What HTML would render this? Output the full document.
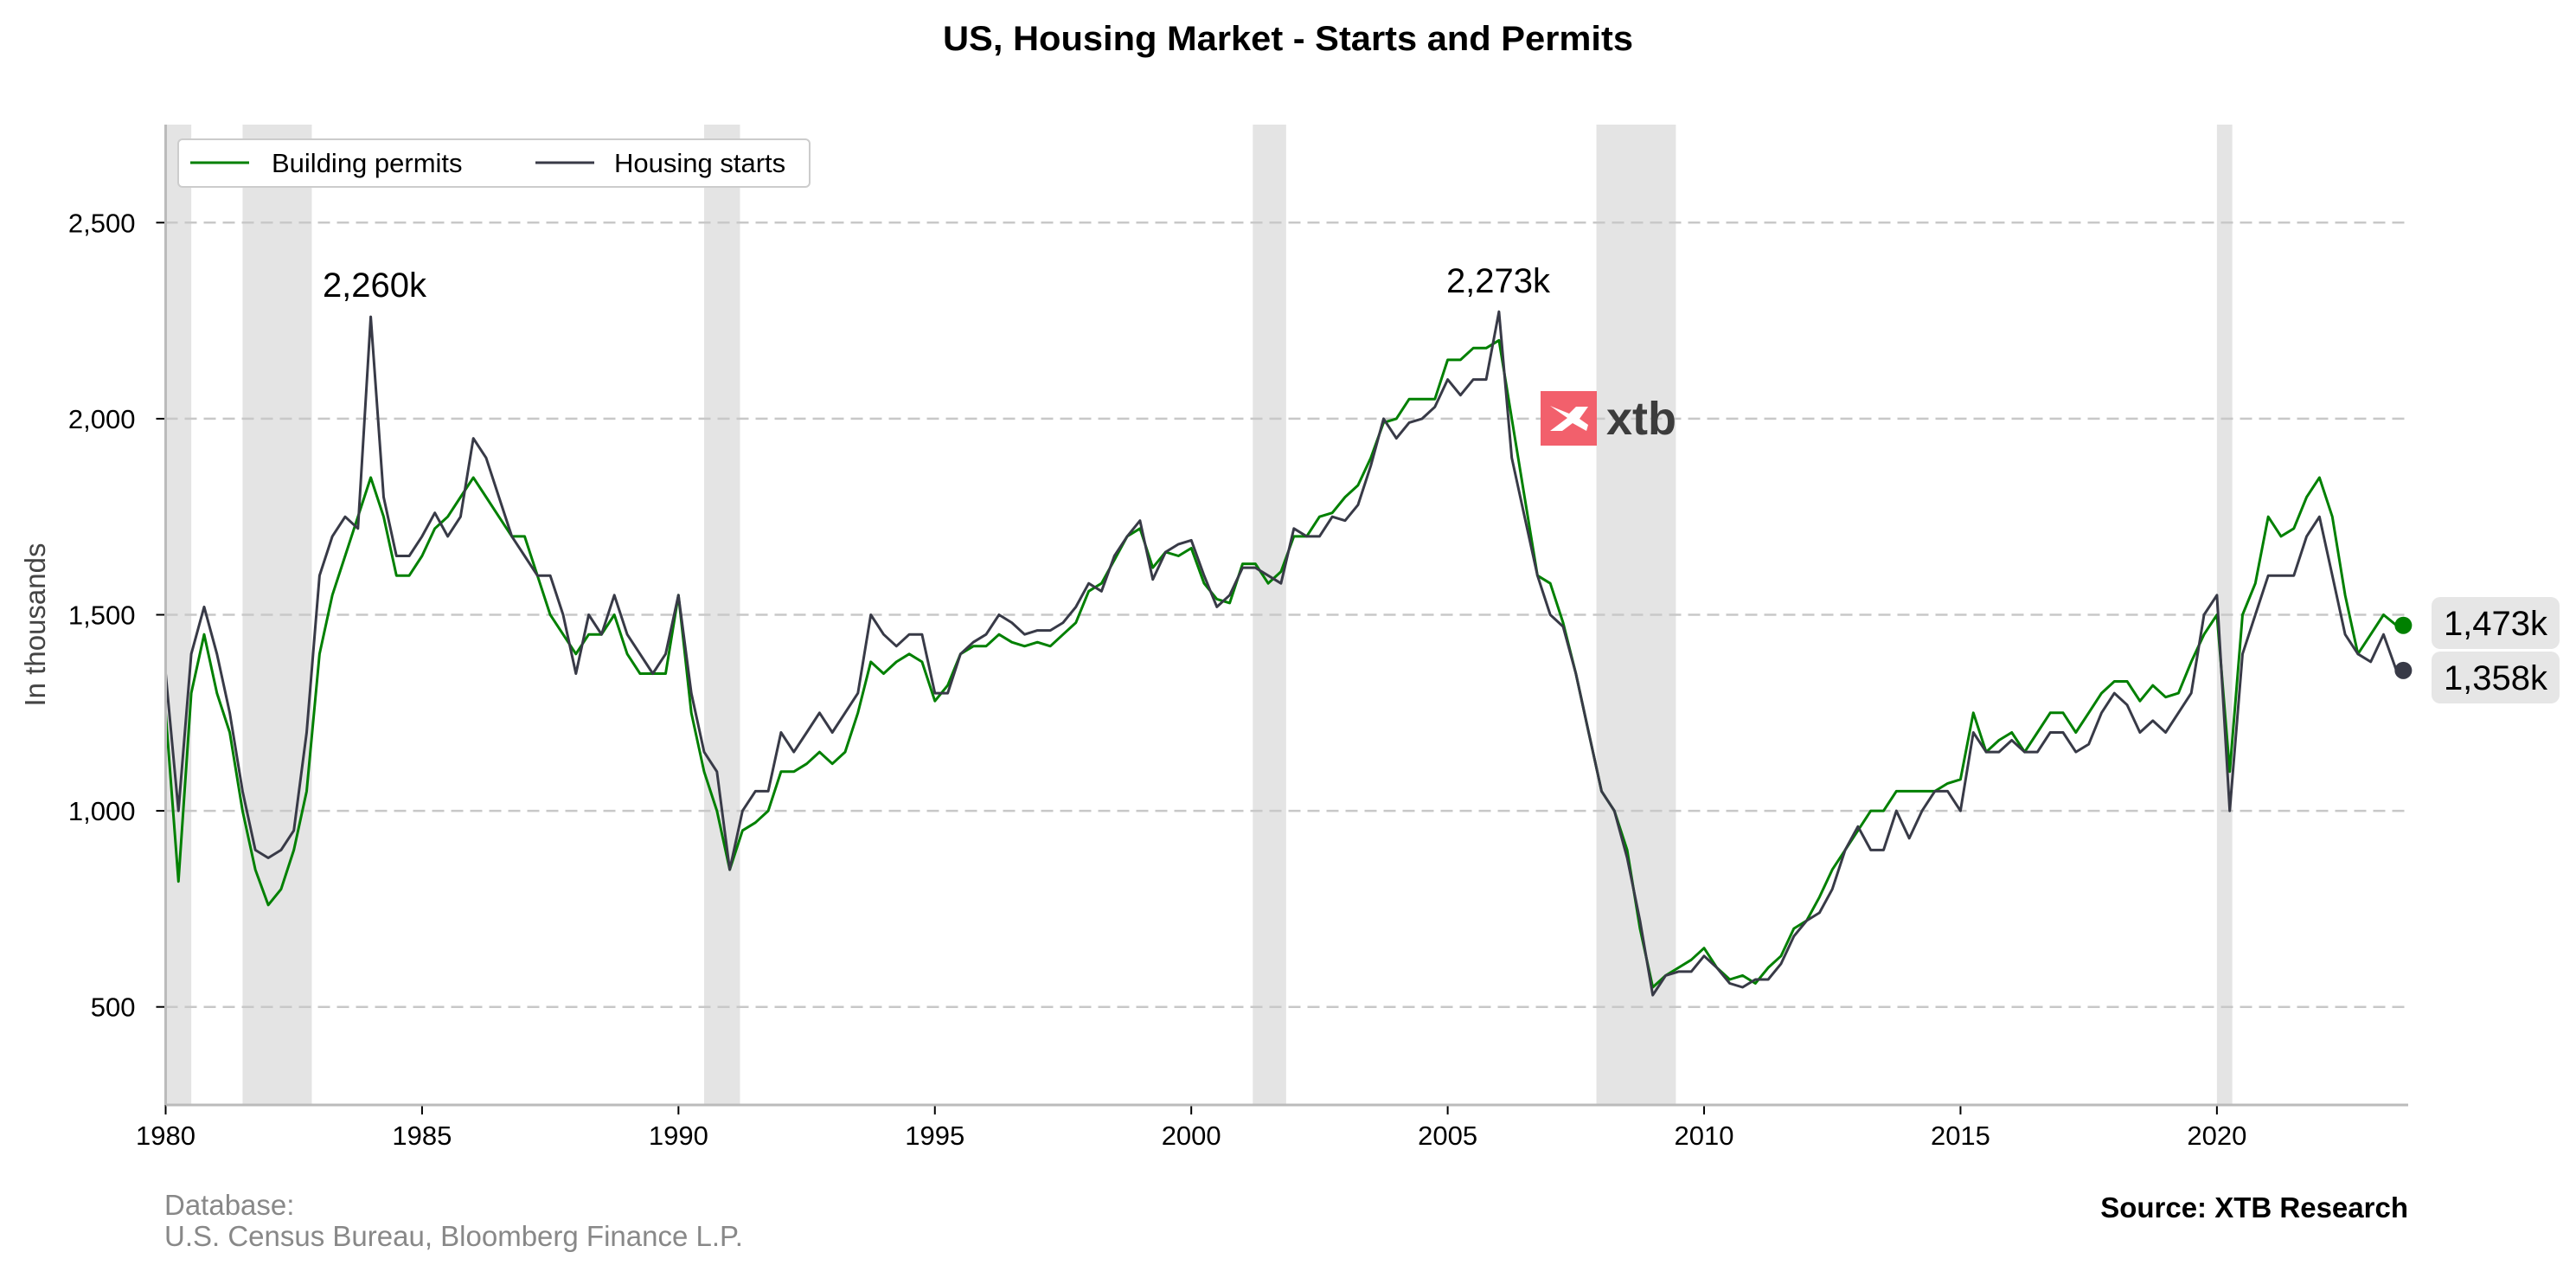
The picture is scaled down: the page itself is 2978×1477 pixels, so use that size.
<!DOCTYPE html>
<html><head><meta charset="utf-8">
<style>
html,body{margin:0;padding:0;background:#fff;}
svg{display:block;font-family:"Liberation Sans",Arial,sans-serif;}
</style></head>
<body>
<svg id="chart" width="2978" height="1477" viewBox="0 0 2978 1477" xmlns="http://www.w3.org/2000/svg">
<text x="1489" y="58" text-anchor="middle" font-size="40" font-weight="bold" fill="#000" textLength="798" lengthAdjust="spacingAndGlyphs">US, Housing Market - Starts and Permits</text>
<g id="bands"></g>
<g id="grid"></g>
<g id="series"></g>
<g id="axes"></g>
<text transform="translate(52,722) rotate(-90)" text-anchor="middle" font-size="33" fill="#444">In thousands</text>
<text x="190" y="1404" font-size="33" fill="#888">Database:</text>
<text x="190" y="1440" font-size="33" fill="#888">U.S. Census Bureau, Bloomberg Finance L.P.</text>
<text x="2784" y="1407" text-anchor="end" font-size="33" font-weight="bold" fill="#000">Source: XTB Research</text>
<g>
<rect x="1781" y="452" width="65" height="63" fill="#f2606c"/>
<path d="M1792 469 L1812 483 L1792 498 L1806 498 L1818 489 L1834 498 L1836 491 L1826 484 L1836 470 L1822 470 L1814 478 Z" fill="#fff"/>
<text x="1857" y="502" font-size="54" font-weight="bold" fill="#3c3c3c">xtb</text>
</g>
<g>
<rect x="206" y="161" width="730" height="55" rx="5" fill="#fff" stroke="#ccc" stroke-width="2"/>
<line x1="220" y1="188" x2="288" y2="188" stroke="#008000" stroke-width="3"/>
<text x="314" y="199" font-size="31" fill="#000">Building permits</text>
<line x1="619" y1="188" x2="687" y2="188" stroke="#383a47" stroke-width="3"/>
<text x="710" y="199" font-size="31" fill="#000">Housing starts</text>
</g>
<text x="433" y="343" text-anchor="middle" font-size="40" fill="#000">2,260k</text>
<text x="1732" y="338" text-anchor="middle" font-size="40" fill="#000">2,273k</text>
<g id="endlabels"></g>
</svg>
<script>
const years = [1980,1985,1990,1995,2000,2005,2010,2015,2020];
const yTicks = [500,1000,1500,2000,2500];
const recessionStarts = [1980.0,1981.5,1990.5,2001.2,2007.9,2020.0];
const recessionEnds = [1980.5,1982.85,1991.2,2001.85,2009.45,2020.3];
const startYear = 1980;
const permits = [
1250,820,1300,1450, 1300,1200,1000,850, 760,800,900,1050, 1400,1550,1650,1750,
1850,1750,1600,1600, 1650,1720,1750,1800, 1850,1800,1750,1700, 1700,1600,1500,1450,
1400,1450,1450,1500, 1400,1350,1350,1350, 1550,1250,1100,1000, 850,950,970,1000,
1100,1100,1120,1150, 1120,1150,1250,1380, 1350,1380,1400,1380, 1280,1320,1400,1420,
1420,1450,1430,1420, 1430,1420,1450,1480, 1560,1580,1640,1700, 1720,1620,1660,1650,
1670,1580,1540,1530, 1630,1630,1580,1610, 1700,1700,1750,1760, 1800,1830,1900,1990,
2000,2050,2050,2050, 2150,2150,2180,2180, 2200,2000,1800,1600, 1580,1480,1350,1200,
1050,1000,900,700, 550,580,600,620, 650,600,570,580, 560,600,630,700,
720,780,850,900, 950,1000,1000,1050, 1050,1050,1050,1070, 1080,1250,1150,1180,
1200,1150,1200,1250, 1250,1200,1250,1300, 1330,1330,1280,1320, 1290,1300,1380,1450,
1500,1100,1500,1580, 1750,1700,1720,1800, 1850,1750,1550,1400, 1450,1500,1473];
const starts = [
1350,1000,1400,1520, 1400,1250,1050,900, 880,900,950,1200, 1600,1700,1750,1720,
2260,1800,1650,1650, 1700,1760,1700,1750, 1950,1900,1800,1700, 1650,1600,1600,1500,
1350,1500,1450,1550, 1450,1400,1350,1400, 1550,1300,1150,1100, 850,1000,1050,1050,
1200,1150,1200,1250, 1200,1250,1300,1500, 1450,1420,1450,1450, 1300,1300,1400,1430,
1450,1500,1480,1450, 1460,1460,1480,1520, 1580,1560,1650,1700, 1740,1590,1660,1680,
1690,1600,1520,1550, 1620,1620,1600,1580, 1720,1700,1700,1750, 1740,1780,1880,2000,
1950,1990,2000,2030, 2100,2060,2100,2100, 2273,1900,1750,1600, 1500,1470,1350,1200,
1050,1000,880,720, 530,580,590,590, 630,600,560,550, 570,570,610,680,
720,740,800,900, 960,900,900,1000, 930,1000,1050,1050, 1000,1200,1150,1150,
1180,1150,1150,1200, 1200,1150,1170,1250, 1300,1270,1200,1230, 1200,1250,1300,1500,
1550,1000,1400,1500, 1600,1600,1600,1700, 1750,1600,1450,1400, 1380,1450,1358];
const NS="http://www.w3.org/2000/svg";
const L=191.5,R=2784,T=144,B=1277, X0=1980, X1=2023.73, Y0=250, Y1=2750;
function xs(v){return L+(v-X0)/(X1-X0)*(R-L);}
function ys(v){return B-(v-Y0)/(Y1-Y0)*(B-T);}
function mk(tag,attrs,parent){const e=document.createElementNS(NS,tag);for(const k in attrs)e.setAttribute(k,attrs[k]);parent.appendChild(e);return e;}
const bands=document.getElementById('bands');
recessionStarts.forEach((s,i)=>{
 const r=mk('rect',{x:xs(s),y:T,width:xs(recessionEnds[i])-xs(s),height:B-T,fill:'#e4e4e4'},bands);
 
 
});
const grid=document.getElementById('grid'), axes=document.getElementById('axes');
yTicks.forEach(v=>{
 const g=mk('line',{x1:L,x2:R,y1:ys(v),y2:ys(v),stroke:'#c8c8c8','stroke-width':2.5,'stroke-dasharray':'14,8'},grid);
 
 
 mk('line',{x1:L-11,x2:L,y1:ys(v),y2:ys(v),stroke:'#000','stroke-width':2},axes);
 const t=mk('text',{x:L-35,y:ys(v)+11,'text-anchor':'end','font-size':31,fill:'#000'},axes);
 t.textContent=v.toLocaleString('en-US');
 
 
});
years.forEach(v=>{
 mk('line',{x1:xs(v),x2:xs(v),y1:B,y2:B+11,stroke:'#000','stroke-width':2},axes);
 const t=mk('text',{x:xs(v),y:B+46,'text-anchor':'middle','font-size':31,fill:'#000'},axes);
 t.textContent=v;
 
 
});
const ls=mk('line',{x1:L,x2:L,y1:T,y2:B,stroke:'#bbb','stroke-width':3},axes);


const bs=mk('line',{x1:L,x2:R,y1:B,y2:B,stroke:'#bbb','stroke-width':3},axes);


const series=document.getElementById('series'), ends=document.getElementById('endlabels');
function draw(arr,color,name,labelY){
 const pts=arr.map((v,i)=>xs(startYear+i/4).toFixed(1)+','+ys(v).toFixed(1)).join(' ');
 const p=mk('polyline',{points:pts,fill:'none',stroke:color,'stroke-width':3,'stroke-linejoin':'round'},series);
 
 
 const last=arr[arr.length-1], lx=xs(startYear+(arr.length-1)/4);
 const c=mk('circle',{cx:lx+8,cy:ys(last),r:10,fill:color},ends);
 
 
 const r=mk('rect',{x:2811,y:labelY,width:148,height:60,rx:10,fill:'#e6e6e6'},ends);
 
 
 const t=mk('text',{x:2885,y:labelY+44,'text-anchor':'middle','font-size':40,fill:'#000'},ends);
 t.textContent=last.toLocaleString('en-US')+'k';
 
 
}
draw(permits,'#008000','building-permits',690);
draw(starts,'#383a47','housing-starts',753);
</script>
</body></html>
